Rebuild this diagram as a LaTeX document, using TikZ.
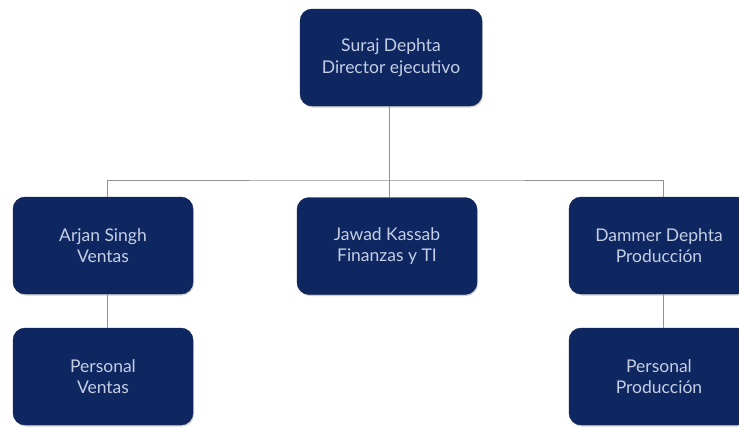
\documentclass[tikz,border=0pt]{standalone}
\usepackage{fontspec}
\setmainfont{Lato}
\usetikzlibrary{shadows}
\definecolor{navy}{RGB}{15,39,96}
\definecolor{boxtext}{RGB}{196,206,228}
\definecolor{wire}{RGB}{145,145,145}
\tikzset{
  orgbox/.style={draw=navy!80!black, fill=navy, rounded corners=12pt,
    minimum width=180pt, minimum height=97pt, align=center,
    text=boxtext, font=\fontsize{17.5}{21.5}\selectfont,
    drop shadow={shadow xshift=1pt, shadow yshift=-1.5pt, opacity=0.35}},
  wireline/.style={draw=wire, line width=1pt}
}
\begin{document}
\begin{tikzpicture}[x=1pt, y=-1pt]
  \useasboundingbox (0,0) rectangle (739,426);
  \clip (0,0) rectangle (739,426);
  \fill[white] (0,0) rectangle (739,426);

  % anchor points of the connector tree
  \coordinate (bus) at (389,180);
  \coordinate (ceoS) at (389,105);
  \coordinate (lft) at (107,197);
  \coordinate (rgt) at (663,197);

  % boxes
  \node[orgbox, minimum width=182pt] (ceo) at (391,57.5) {Suraj Dephta\\Director ejecutivo};
  \node[orgbox] (ventas) at (103,245.5) {Arjan Singh\\Ventas};
  \node[orgbox] (fin) at (387,246) {Jawad Kassab\\Finanzas y TI};
  \node[orgbox] (prod) at (659,245.5) {Dammer Dephta\\Producción};
  \node[orgbox] (pv) at (103,376.5) {Personal\\Ventas};
  \node[orgbox] (pp) at (659,376.5) {Personal\\Producción};

  % connectors
  \draw[wireline] (ceo.south -| ceoS) -- (fin.north -| bus);
  \draw[wireline] (ventas.north -| lft) |- (bus) -| (prod.north -| rgt);
  \draw[wireline] (ventas.south -| lft) -- (pv.north -| lft);
  \draw[wireline] (prod.south -| rgt) -- (pp.north -| rgt);
\end{tikzpicture}
\end{document}
